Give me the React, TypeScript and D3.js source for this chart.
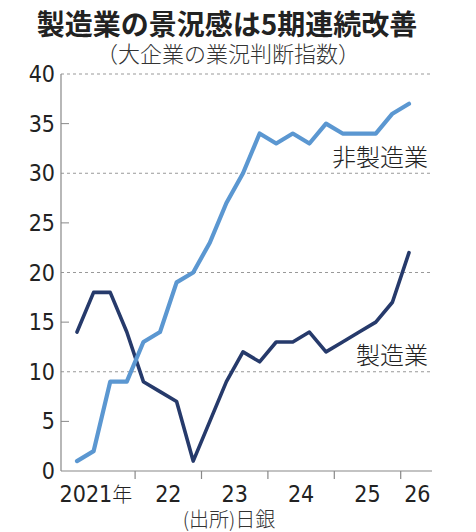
import { scaleLinear, line } from "d3";

// 短観・大企業の業況判断指数（2021年3月〜2026年3月、四半期）
const quarters = [
  "2021Q1", "2021Q2", "2021Q3", "2021Q4",
  "2022Q1", "2022Q2", "2022Q3", "2022Q4",
  "2023Q1", "2023Q2", "2023Q3", "2023Q4",
  "2024Q1", "2024Q2", "2024Q3", "2024Q4",
  "2025Q1", "2025Q2", "2025Q3", "2025Q4",
  "2026Q1"
];
const manufacturing = [14, 18, 18, 14, 9, 8, 7, 1, 5, 9, 12, 11, 13, 13, 14, 12, 13, 14, 15, 17, 22];
const nonManufacturing = [1, 2, 9, 9, 13, 14, 19, 20, 23, 27, 30, 34, 33, 34, 33, 35, 34, 34, 34, 36, 37];
const yTicks = [0, 5, 10, 15, 20, 25, 30, 35, 40];
const yearLabels = ["2021年", "22", "23", "24", "25", "26"];

const numFont = "'Liberation Sans Narrow', 'Arial Narrow', 'DejaVu Sans Condensed', sans-serif";
const jpFont = "'Noto Sans CJK JP', 'Noto Sans', sans-serif";
const lightBlue = "#5b97d1";
const navy = "#263a6b";

export default function App() {
  const width = 476;
  const height = 532;
  const left = 61;
  const right = 432;

  const x = scaleLinear().domain([0, quarters.length - 1]).range([77, 409]);
  const y = scaleLinear().domain([0, 40]).range([471, 74]);

  const path = line<number>()
    .x((_, i) => x(i))
    .y((d) => y(d));

  // 年の境目（Q4とQ1の間）
  const boundaries = yearLabels.slice(1).map((_, i) => x(i * 4 + 3.5));

  return (
    <svg
      width={width}
      height={height}
      viewBox={`0 0 ${width} ${height}`}
      style={{ position: "absolute", left: 0, top: 0, background: "#fff" }}
    >
      <text x={227} y={35} textAnchor="middle" fontFamily={jpFont} fontWeight={700} fontSize={28} fill="#222">
        製造業の景況感は5期連続改善
      </text>
      <text x={228} y={62} textAnchor="middle" fontFamily={jpFont} fontWeight={300} fontSize={22} fill="#333">
        （大企業の業況判断指数）
      </text>

      {yTicks.map((t) => {
        const yy = y(t);
        const major = t % 10 === 0;
        return (
          <g key={t}>
            {major && t > 0 ? (
              <line x1={left} x2={right} y1={yy} y2={yy} stroke="#999" strokeWidth={1} strokeDasharray="3 3" />
            ) : null}
            {!major ? <line x1={left} x2={left + 8} y1={yy} y2={yy} stroke="#888" strokeWidth={1} /> : null}
            <text x={55} y={yy + 8} textAnchor="end" fontFamily={numFont} fontSize={23} fill="#222">
              {t}
            </text>
          </g>
        );
      })}

      <line x1={left} x2={left} y1={y(40)} y2={y(0)} stroke="#888" strokeWidth={1.2} />
      <line x1={left} x2={right} y1={y(0)} y2={y(0)} stroke="#888" strokeWidth={1.2} />
      {boundaries.map((bx) => (
        <line key={bx} x1={bx} x2={bx} y1={y(0)} y2={y(0) + 8} stroke="#888" strokeWidth={1.2} />
      ))}

      {yearLabels.map((label, i) => {
        const mid = Math.min(x(i * 4 + 1.5), x(quarters.length - 0.5));
        return (
          <text
            key={label}
            x={i === 0 ? mid - 6 : mid}
            y={502}
            textAnchor="middle"
            fontFamily={numFont}
            fontSize={23}
            fill="#222"
          >
            {i === 0 ? (
              <>
                2021<tspan fontFamily={jpFont} fontWeight={300} fontSize={20}>年</tspan>
              </>
            ) : (
              label
            )}
          </text>
        );
      })}

      <path d={path(manufacturing) ?? ""} fill="none" stroke={navy} strokeWidth={3.6} strokeLinejoin="round" strokeLinecap="round" />
      <path d={path(nonManufacturing) ?? ""} fill="none" stroke={lightBlue} strokeWidth={4.2} strokeLinejoin="round" strokeLinecap="round" />

      <text x={428} y={166} textAnchor="end" fontFamily={jpFont} fontWeight={300} fontSize={24} fill="#222">
        非製造業
      </text>
      <text x={428} y={364} textAnchor="end" fontFamily={jpFont} fontWeight={300} fontSize={24} fill="#222">
        製造業
      </text>

      <text x={229} y={527} textAnchor="middle" fontFamily={jpFont} fontWeight={300} fontSize={20} fill="#333">
        (出所)日銀
      </text>
    </svg>
  );
}
